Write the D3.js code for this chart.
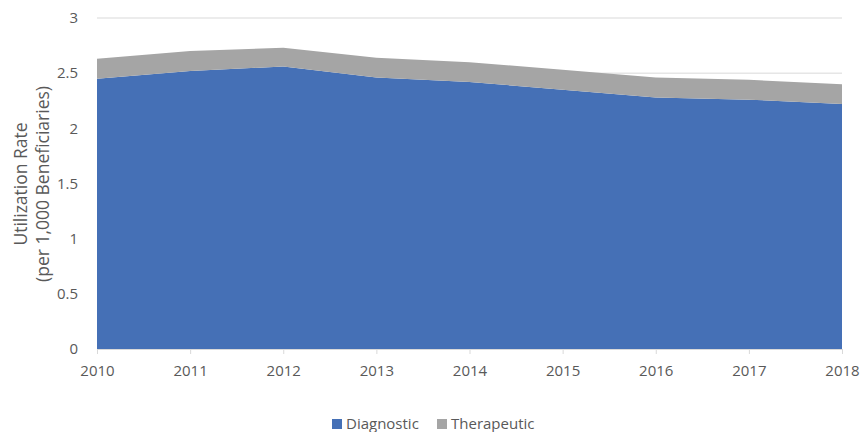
<!DOCTYPE html>
<html lang="en">
<head>
<meta charset="UTF-8">
<title>Utilization Rate</title>
<style>
  body { margin: 0; background: #fff; }
  svg text { font-family: "Open Sans", sans-serif; fill: #595959; }
</style>
</head>
<body>
<svg id="chart" width="861" height="432"></svg>
<script src="https://cdn.jsdelivr.net/npm/d3@7"></script>
<script>
// data
var years = [2010, 2011, 2012, 2013, 2014, 2015, 2016, 2017, 2018];
var diagnostic = [2.45, 2.52, 2.56, 2.46, 2.42, 2.35, 2.28, 2.26, 2.22];
var therapeutic = [0.18, 0.18, 0.17, 0.18, 0.18, 0.18, 0.18, 0.18, 0.18];
var yTicks = [0, 0.5, 1, 1.5, 2, 2.5, 3];
var seriesNames = ["Diagnostic", "Therapeutic"];
var colors = ["#4570b6", "#a5a5a5"];

var svg = d3.select("#chart");
var plotLeft = 97, plotRight = 842, plotTop = 18, plotBottom = 349;

var x = d3.scaleLinear().domain([2010, 2018]).range([plotLeft, plotRight]);
var y = d3.scaleLinear().domain([0, 3]).range([plotBottom, plotTop]);

var rows = years.map(function (yr, i) {
  return { year: yr, Diagnostic: diagnostic[i], Therapeutic: therapeutic[i] };
});
var stacked = d3.stack().keys(seriesNames)(rows);

// gridlines
svg.append("g")
  .selectAll("line")
  .data(yTicks.filter(function (d) { return d > 0; }))
  .enter().append("line")
  .attr("x1", plotLeft).attr("x2", plotRight)
  .attr("y1", function (d) { return y(d); })
  .attr("y2", function (d) { return y(d); })
  .attr("stroke", "#d9d9d9").attr("stroke-width", 1);

// areas
var area = d3.area()
  .x(function (d) { return x(d.data.year); })
  .y0(function (d) { return y(d[0]); })
  .y1(function (d) { return y(d[1]); });

svg.append("g")
  .selectAll("path")
  .data(stacked)
  .enter().append("path")
  .attr("d", area)
  .attr("fill", function (d, i) { return colors[i]; });

// x axis
var xAxis = svg.append("g")
  .attr("transform", "translate(0," + plotBottom + ")")
  .call(d3.axisBottom(x).tickValues(years).tickFormat(d3.format("d")).tickSize(5).tickSizeOuter(0));
xAxis.select(".domain").attr("stroke", "#d9d9d9");
xAxis.selectAll(".tick line").attr("stroke", "#d9d9d9");
xAxis.selectAll(".tick text").attr("font-size", 15).attr("y", 12).attr("dy", "1em").attr("fill", "#595959");

// y axis labels (no line)
var yAxis = svg.append("g")
  .attr("transform", "translate(" + (plotLeft - 16) + ",0)")
  .call(d3.axisLeft(y).tickValues(yTicks).tickFormat(function (d) { return d; }).tickSize(0));
yAxis.select(".domain").remove();
yAxis.selectAll(".tick text").attr("font-size", 15).attr("fill", "#595959");

// y title
var title = svg.append("text")
  .attr("transform", "translate(27,184) rotate(-90)")
  .attr("text-anchor", "middle")
  .attr("font-size", 17.5);
title.append("tspan").attr("x", 0).attr("dy", 0).text("Utilization Rate");
title.append("tspan").attr("x", 0).attr("dy", 22).text("(per 1,000 Beneficiaries)");

// legend
var legend = svg.append("g").attr("transform", "translate(332,419)");
var lx = [0, 105];
seriesNames.forEach(function (name, i) {
  var g = legend.append("g").attr("transform", "translate(" + lx[i] + ",0)");
  g.append("rect").attr("width", 10).attr("height", 10).attr("y", 0).attr("fill", colors[i]);
  g.append("text").attr("x", 14).attr("y", 10).attr("font-size", 15).text(name);
});
</script>
</body>
</html>
